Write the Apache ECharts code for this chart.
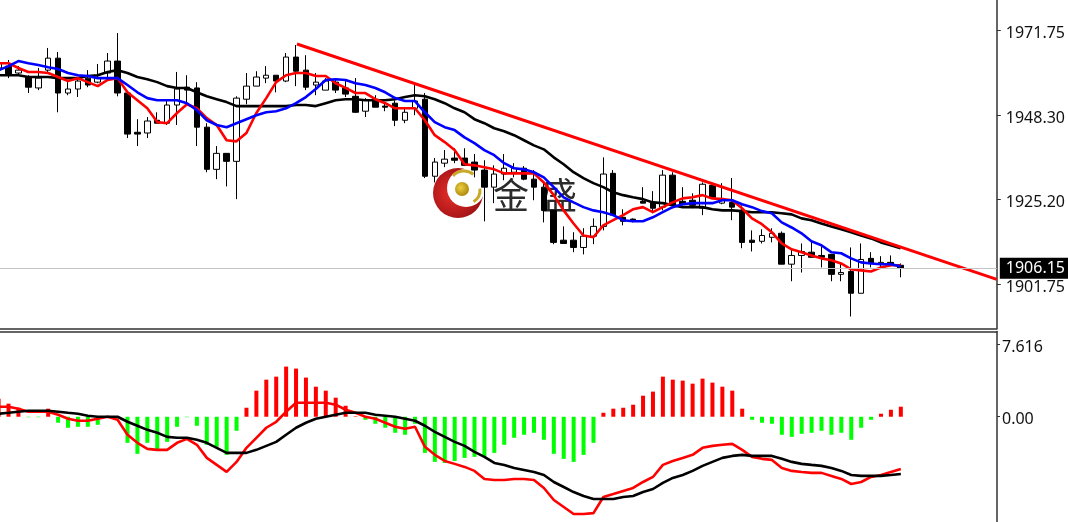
<!DOCTYPE html>
<html><head><meta charset="utf-8">
<style>html,body{margin:0;padding:0;background:#fff;overflow:hidden}#c{width:1068px;height:522px}</style>
<script src="https://cdn.jsdelivr.net/npm/echarts@6/dist/echarts.min.js"></script>
</head><body><div id="c"></div>
<script>
const opens=[1961.3,1961.8,1959.9,1958.8,1955.8,1960.7,1964.0,1954.4,1955.5,1958.5,
1957.4,1959.9,1963.2,1954.4,1943.6,1943.4,1946.9,1946.1,1951.1,1956.0,
1955.8,1945.0,1933.4,1937.8,1935.6,1952.7,1956.3,1958.5,1959.3,1957.7,
1964.3,1960.7,1956.6,1955.2,1957.4,1955.8,1953.5,1949.4,1952.7,1950.8,
1951.6,1946.9,1950.2,1952.7,1931.5,1935.1,1936.5,1936.5,1935.4,1933.2,
1928.5,1932.1,1932.6,1933.7,1930.7,1928.5,1922.1,1913.9,1913.9,1911.9,
1915.0,1917.7,1932.3,1920.2,1919.7,1924.6,1924.3,1923.0,1931.8,1924.6,
1924.9,1922.7,1929.0,1924.1,1924.3,1922.1,1913.9,1913.6,1914.7,1915.8,
1907.3,1909.7,1910.6,1909.7,1910.0,1904.5,1905.3,1899.3,1908.9,1907.3,
1907.8,1907.0];
const closes=[1962.6,1959.3,1960.7,1956.0,1958.5,1964.0,1954.4,1955.5,1957.7,1956.6,
1958.5,1963.2,1954.4,1943.1,1943.1,1946.7,1946.1,1951.1,1955.5,1955.2,
1945.0,1933.4,1937.8,1935.6,1953.0,1956.3,1958.8,1959.3,1957.7,1964.3,
1960.4,1956.0,1957.4,1957.7,1955.2,1954.1,1949.1,1952.4,1950.5,1950.5,
1946.9,1949.1,1952.2,1931.5,1935.4,1936.2,1935.9,1934.5,1933.2,1928.5,
1932.1,1933.7,1933.7,1930.7,1928.5,1922.1,1913.3,1913.0,1911.9,1915.0,
1917.7,1932.1,1920.8,1919.1,1919.1,1924.1,1922.7,1931.8,1923.5,1923.8,
1923.5,1929.3,1925.7,1925.4,1923.0,1913.3,1913.3,1915.2,1915.8,1907.3,
1909.7,1910.8,1909.2,1909.2,1904.5,1905.0,1899.3,1908.6,1907.5,1907.8,
1907.0,1906.15];
const lows=[1959.3,1958.5,1959.3,1954.4,1955.2,1960.2,1949.1,1953.8,1953.3,1956.0,
1957.1,1958.8,1953.5,1942.0,1939.8,1942.0,1946.1,1945.6,1945.6,1951.6,
1939.8,1932.6,1930.7,1928.7,1925.2,1951.3,1956.3,1957.1,1954.6,1957.4,
1956.3,1955.2,1953.8,1955.2,1954.4,1953.3,1948.9,1947.8,1950.5,1949.4,
1945.3,1946.1,1948.3,1931.0,1929.8,1934.0,1935.1,1934.3,1931.2,1919.1,
1924.1,1930.4,1931.2,1930.4,1924.9,1918.8,1912.8,1913.0,1910.6,1910.0,
1912.8,1916.6,1920.8,1918.0,1918.8,1924.1,1921.3,1922.1,1922.7,1923.5,
1922.7,1920.8,1925.4,1923.8,1919.4,1911.7,1910.8,1913.0,1913.3,1907.3,
1902.6,1905.0,1909.2,1906.4,1902.6,1902.6,1892.9,1899.3,1906.4,1906.4,
1906.7,1903.7];
const highs=[1963.5,1963.5,1961.8,1959.3,1961.3,1966.8,1965.7,1957.4,1958.8,1960.7,
1962.4,1965.4,1970.9,1954.4,1947.2,1947.8,1949.1,1952.4,1960.2,1959.3,
1957.4,1946.1,1939.8,1937.8,1953.5,1959.9,1960.4,1961.8,1959.3,1965.4,
1967.6,1964.8,1959.9,1958.5,1958.5,1958.0,1958.5,1953.0,1953.8,1951.6,
1952.4,1950.2,1956.6,1954.4,1936.5,1938.7,1939.2,1939.2,1937.6,1935.9,
1934.5,1937.6,1935.1,1934.3,1933.2,1929.8,1922.1,1917.7,1916.1,1917.2,
1919.9,1936.7,1933.2,1922.4,1919.9,1928.5,1927.4,1933.2,1932.6,1928.5,
1926.8,1929.8,1929.6,1929.6,1931.0,1923.5,1916.6,1916.9,1917.2,1916.3,
1911.4,1913.0,1913.9,1912.5,1910.0,1907.5,1911.9,1913.0,1910.6,1909.5,
1909.7,1907.5];
const maSlow=[1959.3,1959.3,1959.3,1958.8,1958.8,1958.8,1958.5,1958.5,1958.5,1959.1,
1959.3,1960.2,1960.7,1959.9,1958.8,1958.2,1957.4,1956.3,1955.8,1955.8,
1954.6,1953.5,1952.7,1951.9,1950.8,1950.8,1950.8,1950.8,1950.8,1950.8,
1951.1,1951.1,1950.8,1951.6,1952.4,1952.7,1952.7,1952.4,1952.4,1952.4,
1952.7,1953.3,1953.8,1953.5,1952.7,1951.6,1950.2,1949.1,1947.2,1946.1,
1944.7,1943.9,1942.8,1941.4,1940.0,1938.9,1936.7,1934.8,1932.6,1931.0,
1929.6,1928.5,1927.1,1926.3,1925.7,1925.2,1924.3,1924.1,1923.5,1923.0,
1923.0,1923.0,1922.4,1922.1,1922.1,1921.9,1921.6,1921.6,1921.6,1921.3,
1921.0,1919.9,1919.4,1918.5,1917.7,1916.9,1916.1,1915.2,1914.4,1913.3,
1912.5,1911.7];
const maMid=[1960.7,1961.8,1963.2,1962.6,1962.1,1961.5,1961.0,1959.9,1959.3,1959.1,
1958.5,1958.5,1958.5,1956.6,1954.6,1953.0,1952.4,1952.4,1952.4,1951.6,
1949.7,1946.9,1945.6,1945.0,1946.1,1947.2,1948.3,1949.1,1949.4,1950.2,
1951.6,1953.3,1955.5,1958.0,1958.2,1958.0,1957.1,1956.6,1955.8,1954.6,
1953.0,1952.2,1952.2,1949.1,1946.4,1945.0,1944.2,1942.2,1940.6,1938.7,
1937.3,1935.1,1933.7,1933.4,1932.6,1931.2,1928.5,1925.7,1924.3,1923.0,
1922.1,1921.6,1920.8,1919.4,1919.1,1919.1,1920.2,1921.6,1923.0,1923.8,
1924.1,1924.1,1924.1,1924.9,1924.9,1923.8,1923.0,1921.9,1921.3,1918.8,
1917.4,1915.8,1913.6,1912.5,1910.6,1910.3,1908.9,1907.8,1907.5,1907.3,
1907.3,1906.7];
const maFast=[1962.6,1962.6,1961.3,1960.2,1960.2,1959.9,1958.8,1957.7,1958.5,1957.4,
1956.3,1958.0,1958.5,1954.6,1952.4,1950.2,1946.4,1946.1,1948.9,1951.3,
1950.2,1947.5,1945.6,1941.4,1941.1,1943.4,1948.9,1953.0,1957.4,1959.3,
1959.9,1959.9,1959.1,1959.1,1957.1,1955.8,1954.4,1954.4,1952.7,1951.6,
1950.2,1950.2,1950.2,1946.9,1942.8,1940.9,1938.7,1934.8,1934.5,1934.0,
1933.4,1932.3,1932.3,1932.3,1932.3,1929.8,1926.3,1922.1,1918.5,1915.2,
1914.7,1918.0,1919.4,1920.8,1922.4,1923.0,1921.6,1923.0,1924.3,1925.4,
1925.7,1926.3,1925.4,1925.2,1924.9,1922.7,1919.9,1918.3,1916.1,1913.0,
1911.4,1910.6,1909.7,1908.9,1908.4,1907.5,1905.9,1905.6,1905.3,1906.4,
1907.0,1907.0];
const macdHist=[1.90,1.38,0.95,-0.05,-0.05,0.85,-0.63,-1.16,-1.06,-1.06,
-0.85,-0.05,-0.05,-2.75,-3.91,-2.75,-3.49,-2.65,-1.06,-0.05,
-0.95,-2.96,-3.17,-4.02,-1.48,0.95,2.75,3.91,4.23,5.29,
5.08,4.13,3.17,2.75,2.01,1.16,0.05,-0.32,-0.74,-1.16,
-1.69,-1.90,-0.74,-3.81,-4.76,-4.87,-4.66,-4.34,-4.23,-4.23,
-3.81,-2.96,-2.22,-1.90,-1.69,-2.43,-3.91,-4.44,-4.76,-4.02,
-2.75,0.42,0.85,0.95,1.27,2.22,2.65,4.23,3.91,3.81,
3.49,4.02,3.60,3.17,2.75,0.85,-0.32,-0.63,-0.74,-1.90,
-2.12,-1.80,-1.69,-1.48,-1.90,-1.69,-2.43,-1.16,-0.32,0.32,
0.74,1.06];
const macdFast=[1.06,1.06,0.85,0.53,0.53,0.53,0.21,-0.21,-0.42,-0.42,
-0.21,0,-0.32,-1.90,-2.75,-3.39,-3.49,-3.49,-2.75,-2.33,
-2.96,-4.34,-5.08,-5.82,-4.76,-3.28,-2.22,-1.16,-0.53,0.53,
1.48,1.48,1.48,1.48,1.27,0.74,0.42,0,-0.21,-0.63,
-1.06,-1.27,-1.06,-3.17,-4.02,-4.66,-4.97,-5.29,-5.71,-6.56,
-6.67,-6.67,-6.56,-6.56,-6.67,-7.51,-8.78,-9.52,-10.26,-10.26,
-10.16,-8.46,-8.15,-7.83,-7.51,-6.88,-6.35,-5.08,-4.66,-4.34,
-4.02,-3.28,-3.07,-2.96,-2.86,-3.49,-4.23,-4.44,-4.55,-5.40,
-5.71,-5.82,-5.92,-5.92,-6.24,-6.56,-7.09,-6.88,-6.35,-6.14,
-5.82,-5.50];
const macdSlow=[0.32,0.42,0.53,0.63,0.63,0.63,0.53,0.42,0.32,0.11,
0,0,0,-0.53,-0.95,-1.38,-1.69,-2.12,-2.22,-2.22,
-2.43,-2.75,-3.28,-3.81,-3.81,-3.81,-3.49,-3.07,-2.65,-1.90,
-1.16,-0.63,-0.21,0,0.21,0.42,0.42,0.42,0.21,0.11,
0,-0.21,-0.42,-0.95,-1.59,-2.12,-2.65,-3.07,-3.70,-4.23,
-4.87,-5.08,-5.40,-5.61,-5.82,-6.14,-6.88,-7.41,-7.94,-8.36,
-8.68,-8.68,-8.68,-8.46,-8.36,-7.94,-7.62,-6.98,-6.45,-6.14,
-5.71,-5.18,-4.76,-4.34,-4.13,-4.02,-4.13,-4.13,-4.13,-4.44,
-4.76,-4.97,-5.08,-5.18,-5.40,-5.71,-6.14,-6.24,-6.24,-6.24,
-6.14,-6.03];
const trendIdx=[30.1,100.7];
const trendPrice=[1967.9,1903.1];
const priceTicks=[1971.75,1948.30,1925.20,1901.75];
const macdTicks=[7.616,0];
const lastPrice=1906.15;

const withIdx=a=>a.map((v,i)=>[i,v]);
const candles=opens.map((o,i)=>[i,o,closes[i],lows[i],highs[i]]);
const xRange={min:0.141,max:100.7};
const axisColor='#333';
const lblRich={t:{fontFamily:'"Noto Sans"',fontSize:16,color:'#111',lineHeight:22,verticalAlign:'bottom'}};
const lbl={rich:lblRich};
const line=(name,data,color,xi,w)=>({name,type:'line',data,xAxisIndex:xi,yAxisIndex:xi,showSymbol:false,symbol:'none',
  lineStyle:{color,width:w||2.6},itemStyle:{color},clip:true,silent:true});

const chart=echarts.init(document.getElementById('c'),null,{renderer:'canvas'});
chart.setOption({
  animation:false,backgroundColor:'#fff',
  grid:[{left:0,top:0,width:997,height:328.5},{left:0,top:331.5,width:997,height:190.5}],
  xAxis:[0,1].map(i=>({type:'value',gridIndex:i,...xRange,position:i?'top':'bottom',
    axisLine:{show:true,onZero:false,lineStyle:{color:axisColor,width:1.5}},axisTick:{show:false},axisLabel:{show:false},splitLine:{show:false}})),
  yAxis:[
    {type:'value',gridIndex:0,position:'right',min:1889.6,max:1980,scale:true,
     axisLine:{show:true,onZero:false,lineStyle:{color:axisColor,width:1.5}},
     axisTick:{show:true,length:4,lineStyle:{color:axisColor},customValues:priceTicks},
     axisLabel:{...lbl,margin:9,customValues:priceTicks,formatter:v=>'{t|'+v.toFixed(2)+'}'},splitLine:{show:false}},
    {type:'value',gridIndex:1,position:'right',min:-11.1,max:8.99,
     axisLine:{show:true,onZero:false,lineStyle:{color:axisColor,width:1.5}},
     axisTick:{show:true,length:3,lineStyle:{color:axisColor},customValues:macdTicks},
     axisLabel:{...lbl,margin:5,customValues:macdTicks,formatter:v=>'{t|'+(v===0?'0.00':String(v))+'}'},splitLine:{show:false}}
  ],
  series:[
    {name:'Price',type:'candlestick',data:candles,xAxisIndex:0,yAxisIndex:0,barWidth:6,silent:true,clip:true,
     itemStyle:{color:'#fff',color0:'#000',borderColor:'#000',borderColor0:'#000',borderWidth:1},
     markLine:{silent:true,symbol:'none',animation:false,z:5,precision:2,
       lineStyle:{color:'#c4c4c4',width:1,type:'solid'},
       label:{show:true,position:'end',distance:3,formatter:String(lastPrice),backgroundColor:'#000',color:'#fff',
         fontFamily:'"Noto Sans"',fontSize:16,padding:[1,12,0,6],lineHeight:20},
       emphasis:{disabled:true},
       data:[{yAxis:lastPrice}]}},
    line('MA slow',withIdx(maSlow),'#000',0),
    line('MA fast',withIdx(maFast),'#ff0000',0),
    line('MA mid',withIdx(maMid),'#0000ff',0),
    line('Trend',trendIdx.map((x,i)=>[x,trendPrice[i]]),'#ff0000',0,3),
    {name:'MACD hist',type:'bar',data:withIdx(macdHist),xAxisIndex:1,yAxisIndex:1,barWidth:4,silent:true,
     itemStyle:{color:p=>p.value[1]>=0?'#ff0000':'#00ff00'}},
    line('MACD fast',withIdx(macdFast),'#ff0000',1),
    line('MACD slow',withIdx(macdSlow),'#000',1)
  ],
  graphic:[
    {type:'group',silent:true,z:1,children:[
      {type:'circle',shape:{cx:458,cy:193,r:25},style:{fill:new echarts.graphic.RadialGradient(0.4,0.5,0.6,[{offset:0,color:'#e8302a'},{offset:1,color:'#9e1014'}])}},
      {type:'circle',shape:{cx:466,cy:188,r:19},style:{fill:'#fff'}},
      {type:'circle',shape:{cx:462,cy:189,r:7},style:{fill:new echarts.graphic.RadialGradient(0.4,0.4,0.6,[{offset:0,color:'#ecd040'},{offset:1,color:'#b08a10'}])}},
      {type:'arc',shape:{cx:464,cy:186,r:15,startAngle:-2.4,endAngle:-0.9},style:{stroke:'#c9a92a',lineWidth:3,fill:null}},
      {type:'arc',shape:{cx:466,cy:190,r:14,startAngle:-0.1,endAngle:1.0},style:{stroke:'#c9a92a',lineWidth:3,fill:null}},
      {type:'text',x:493,y:177,style:{text:'金',fontFamily:'"Noto Sans CJK SC"',fontSize:36,fill:'#2b2b2b'}},
      {type:'text',x:541,y:177,style:{text:'盛',fontFamily:'"Noto Sans CJK SC"',fontSize:36,fill:'#2b2b2b'}}
    ]}
  ]
});
</script></body></html>
